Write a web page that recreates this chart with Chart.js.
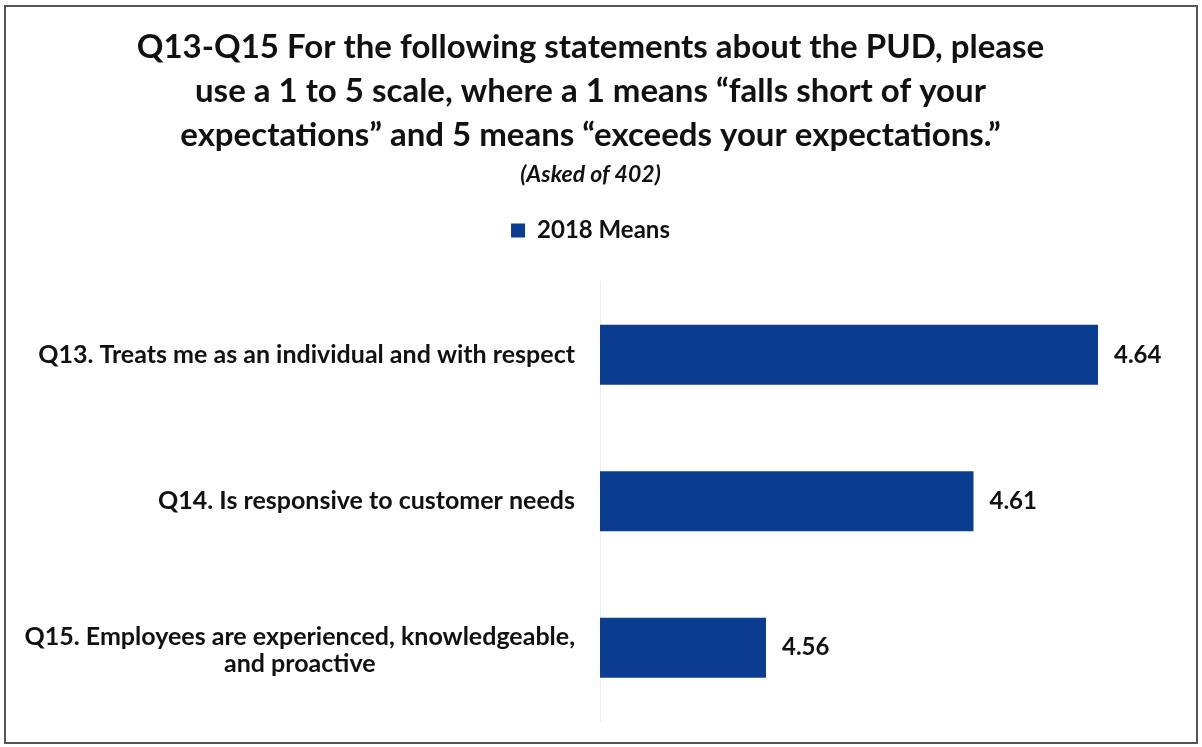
<!DOCTYPE html>
<html>
<head>
<meta charset="utf-8">
<script src="https://cdn.jsdelivr.net/npm/chart.js@4.4.0/dist/chart.umd.min.js"></script>
<style>
  html, body { margin: 0; padding: 0; background: #fff; }
  #wrap { position: relative; width: 1202px; height: 747px; }
</style>
</head>
<body>
<div id="wrap"><canvas id="barChart"></canvas></div>
<script>
// data
const categories = [
  ['Q13. Treats me as an individual and with respect'],
  ['Q14. Is responsive to customer needs'],
  ['Q15. Employees are experienced, knowledgeable,', 'and proactive']
];
const means2018 = [4.64, 4.61, 4.56];
const seriesName = '2018 Means';
const titleLines = [
  'Q13-Q15 For the following statements about the PUD, please',
  'use a 1 to 5 scale, where a 1 means \u201cfalls short of your',
  'expectations\u201d and 5 means \u201cexceeds your expectations.\u201d'
];
const subtitleText = '(Asked of 402)';
const axisMin = 4.52;
const axisMax = 4.66;

const FONT = 'Lato, "Open Sans", sans-serif';
const BLUE = '#0a3d8f';

// frame around the whole picture
const framePlugin = {
  id: 'frame',
  beforeDraw(chart) {
    const ctx = chart.ctx;
    ctx.save();
    ctx.fillStyle = '#fff';
    ctx.fillRect(0, 0, chart.width, chart.height);
    ctx.strokeStyle = '#555';
    ctx.lineWidth = 2;
    ctx.strokeRect(5, 6, chart.width - 10, chart.height - 10);
    ctx.restore();
  }
};

// category labels: block right aligned, lines centred in the block
const catLabelPlugin = {
  id: 'catLabels',
  afterDraw(chart) {
    const ctx = chart.ctx;
    const yScale = chart.scales.y;
    const right = chart.chartArea.left - 25;
    ctx.save();
    ctx.font = 'bold 25px ' + FONT;
    ctx.fillStyle = '#111';
    ctx.textAlign = 'center';
    ctx.textBaseline = 'middle';
    const lh = 27;
    categories.forEach((lines, i) => {
      const w = Math.max(...lines.map(l => ctx.measureText(l).width));
      const cx = right - w / 2;
      const cy = yScale.getPixelForTick(i) + (lines.length > 1 ? 3 : 0);
      const y0 = cy - (lines.length - 1) * lh / 2;
      lines.forEach((l, k) => ctx.fillText(l, cx, y0 + k * lh));
    });
    ctx.restore();
  }
};

// value labels after each bar
const valueLabelPlugin = {
  id: 'valueLabels',
  afterDatasetsDraw(chart) {
    const ctx = chart.ctx;
    const meta = chart.getDatasetMeta(0);
    ctx.save();
    ctx.font = 'bold 24px ' + FONT;
    ctx.fillStyle = '#111';
    ctx.textAlign = 'left';
    ctx.textBaseline = 'middle';
    meta.data.forEach((bar, i) => {
      ctx.fillText(means2018[i].toFixed(2), bar.x + 16, bar.y);
    });
    ctx.restore();
  }
};

const ctx = document.getElementById('barChart').getContext('2d');
new Chart(ctx, {
  type: 'bar',
  data: {
    labels: categories.map(c => c.join(' ')),
    datasets: [{
      label: seriesName,
      data: means2018,
      backgroundColor: BLUE,
      borderWidth: 0,
      barPercentage: 0.41,
      categoryPercentage: 1.0
    }]
  },
  options: {
    indexAxis: 'y',
    responsive: true,
    maintainAspectRatio: false,
    animation: false,
    layout: { padding: { top: 0, right: 21, bottom: 26, left: 0 } },
    plugins: {
      title: {
        display: true,
        text: titleLines,
        color: '#111',
        font: { family: FONT, size: 33, weight: 'bold', lineHeight: 1.333 },
        padding: { top: 25, bottom: 0 }
      },
      subtitle: {
        display: true,
        text: subtitleText,
        color: '#111',
        font: { family: FONT, size: 23, weight: 'bold', style: 'italic', lineHeight: 1.2 },
        padding: { top: 4, bottom: 20 }
      },
      legend: {
        display: true,
        position: 'top',
        labels: {
          color: '#111',
          font: { family: FONT, size: 24, weight: 'bold' },
          boxWidth: 14,
          boxHeight: 14,
          padding: 10
        }
      },
      tooltip: { enabled: false }
    },
    scales: {
      x: {
        type: 'linear',
        position: 'top',
        min: axisMin,
        max: axisMax,
        grid: { display: false },
        border: { display: false },
        ticks: { display: false },
        afterFit(scale) { scale.height = 29; }
      },
      y: {
        grid: { display: false },
        border: { display: true, color: '#ececec' },
        ticks: { display: false },
        afterFit(scale) { scale.width = 600; }
      }
    }
  },
  plugins: [framePlugin, catLabelPlugin, valueLabelPlugin]
});
</script>
</body>
</html>
